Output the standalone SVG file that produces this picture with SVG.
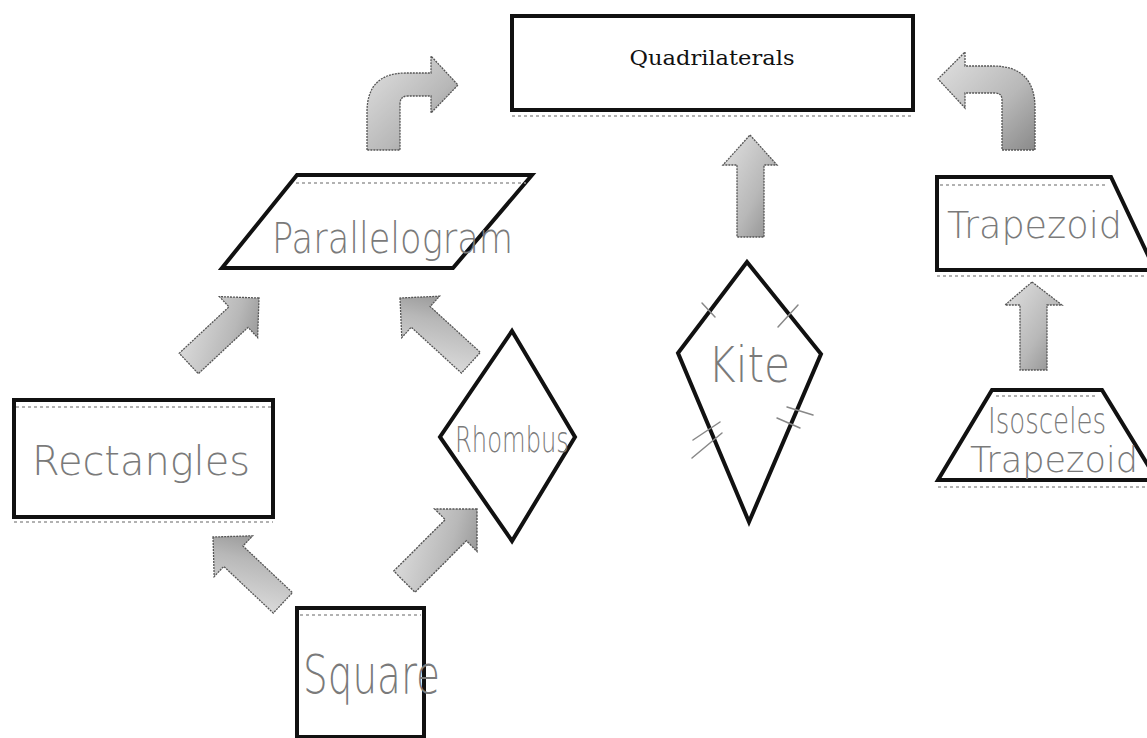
<svg xmlns="http://www.w3.org/2000/svg" width="1147" height="738" viewBox="0 0 1147 738">
<style>
.shape{fill:#fff;stroke:#111;stroke-width:4;stroke-linejoin:miter}
.dots{fill:none;stroke:#999;stroke-width:1.5;stroke-dasharray:3 3}
.hand{font-family:"DejaVu Sans","Liberation Sans",sans-serif;font-weight:200;fill:#7a7a7a}
.title{font-family:"DejaVu Serif","Liberation Serif",serif;font-size:20px;fill:#111}
.arrow{fill:url(#ag);stroke:#555;stroke-width:1.3;stroke-dasharray:2 1;stroke-linejoin:miter}
.tick{fill:none;stroke:#888;stroke-width:1.5;stroke-linecap:round}
</style>
<defs>
<linearGradient id="ag" x1="0" y1="0" x2="1" y2="1">
<stop offset="0" stop-color="#e2e2e2"/>
<stop offset="0.6" stop-color="#b8b8b8"/>
<stop offset="1" stop-color="#8a8a8a"/>
</linearGradient>
<path id="blk" d="M0,0 L-28,-28 L-28,-14 L-96,-14 L-96,14 L-28,14 L-28,28 Z"/>
</defs>
<rect width="1147" height="738" fill="#fff"/>

<g id="connectors">
<path class="arrow" d="M367,150 L367,112 Q367,73 406,73 L431,73 L431,56 L458,85 L431,113 L431,96 L408,96 Q400,96 400,104 L400,150 Z"/>
<path class="arrow" d="M1035,150 L1035,108 Q1035,66 993,66 L965,66 L965,52 L938,79 L965,108 L965,93 L995,93 Q1002,93 1002,100 L1002,150 Z"/>
<path class="arrow" d="M750,135 L777,165 L764,165 L764,237 L737,237 L737,165 L723,165 Z"/>
<path class="arrow" d="M1032,282 L1062,305 L1047,305 L1047,370 L1020,370 L1020,305 L1005,305 Z"/>
<use href="#blk" class="arrow" transform="translate(259,298) rotate(-43)"/>
<use href="#blk" class="arrow" transform="translate(400,298) rotate(-137.6)"/>
<use href="#blk" class="arrow" transform="translate(213,537) rotate(-136.7)"/>
<use href="#blk" class="arrow" transform="translate(477,509) rotate(-45) scale(1.07)"/>
</g>

<g id="quadrilaterals">
<rect class="shape" x="512" y="16" width="401" height="94"/>
<line class="dots" x1="512" y1="116" x2="913" y2="116"/>
<text class="title" x="712" y="65" text-anchor="middle" textLength="165" lengthAdjust="spacingAndGlyphs">Quadrilaterals</text>
</g>

<g id="parallelogram">
<polygon class="shape" points="297,175 532,175 453,268 222,268"/>
<line class="dots" x1="296" y1="183" x2="526" y2="183"/>
<text class="hand" x="272" y="253" font-size="42" textLength="241" lengthAdjust="spacingAndGlyphs">Parallelogram</text>
</g>

<g id="trapezoid">
<polygon class="shape" points="937,177 1111,177 1155,270 937,270"/>
<line class="dots" x1="940" y1="185" x2="1108" y2="185"/>
<line class="dots" x1="937" y1="276" x2="1147" y2="276"/>
<text class="hand" x="947" y="238" font-size="38" textLength="175" lengthAdjust="spacingAndGlyphs">Trapezoid</text>
</g>

<g id="isosceles-trapezoid">
<polygon class="shape" points="992,390 1102,390 1157,480 938,480"/>
<line class="dots" x1="996" y1="396" x2="1098" y2="396"/>
<line class="dots" x1="938" y1="487" x2="1147" y2="487"/>
<text class="hand" x="988" y="433" font-size="35" textLength="118" lengthAdjust="spacingAndGlyphs">Isosceles</text>
<text class="hand" x="970" y="472" font-size="36" textLength="168" lengthAdjust="spacingAndGlyphs">Trapezoid</text>
</g>

<g id="rectangles">
<rect class="shape" x="14" y="400" width="259" height="117"/>
<line class="dots" x1="16" y1="407" x2="271" y2="407"/>
<line class="dots" x1="14" y1="522" x2="273" y2="522"/>
<text class="hand" x="32" y="475" font-size="40" textLength="218" lengthAdjust="spacingAndGlyphs">Rectangles</text>
</g>

<g id="rhombus">
<polygon class="shape" points="512,331 575,437 512,541 440,437"/>
<text class="hand" x="455" y="452" font-size="36" textLength="114" lengthAdjust="spacingAndGlyphs">Rhombus</text>
</g>

<g id="kite">
<polygon class="shape" points="747,262 821,354 749,522 678,353"/>
<text class="hand" x="708" y="382" font-size="50" textLength="82" lengthAdjust="spacingAndGlyphs">Kite</text>
<line class="tick" x1="702" y1="303" x2="715" y2="317"/>
<line class="tick" x1="778" y1="327" x2="798" y2="305"/>
<line class="tick" x1="693" y1="440" x2="720" y2="422"/>
<line class="tick" x1="692" y1="458" x2="722" y2="433"/>
<line class="tick" x1="787" y1="407" x2="813" y2="415"/>
<line class="tick" x1="777" y1="418" x2="800" y2="428"/>
</g>

<g id="square">
<rect class="shape" x="297" y="608" width="127" height="129"/>
<line class="dots" x1="300" y1="615" x2="421" y2="615"/>
<text class="hand" x="303" y="693" font-size="54" textLength="137" lengthAdjust="spacingAndGlyphs">Square</text>
</g>
</svg>
